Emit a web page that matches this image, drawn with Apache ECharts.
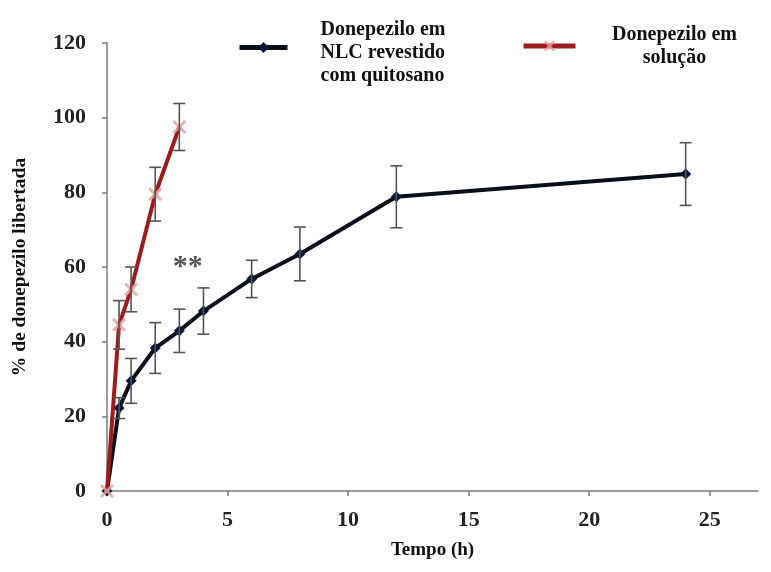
<!DOCTYPE html>
<html>
<head>
<meta charset="utf-8">
<script src="https://cdn.jsdelivr.net/npm/echarts@6/dist/echarts.min.js"></script>
<style>html,body{margin:0;padding:0;background:#fff}#c{width:771px;height:572px}</style>
</head>
<body>
<div id="c"></div>
<script>
// ---- data ----
const nlcTimes = [0, 0.5, 1, 2, 3, 4, 6, 8, 12, 24];
const nlcValues = [0, 22.2, 29.5, 38.3, 42.9, 48.2, 56.8, 63.5, 78.8, 84.9];
const nlcErrors = [0, 2.8, 6, 6.8, 5.8, 6.2, 5, 7.2, 8.3, 8.4];
const solTimes = [0, 0.5, 1, 2, 3];
const solValues = [0, 44.5, 54, 79.5, 97.5];
const solErrors = [0, 6.5, 6, 7.2, 6.3];
const xTickValues = [0, 5, 10, 15, 20, 25];
const yTickValues = [0, 20, 40, 60, 80, 100, 120];
const seriesNames = ['Donepezilo em\nNLC revestido\ncom quitosano', 'Donepezilo em\nsolução'];
const annotationText = '**';
const annotationAt = [3.35, 60];

const FONT = '"Liberation Serif", "Times New Roman", serif';
const chart = echarts.init(document.getElementById('c'), null, {renderer: 'canvas'});

function pairs(xs, ys) { return xs.map((x, i) => [x, ys[i]]); }
function errData(xs, ys, es) { return xs.map((x, i) => [x, ys[i], ys[i] - es[i], ys[i] + es[i]]).filter(d => d[3] > d[2]); }

function renderErr(params, api) {
  const x = api.value(0);
  const lo = api.coord([x, api.value(2)]);
  const hi = api.coord([x, api.value(3)]);
  const w = 6;
  const style = {stroke: '#555', lineWidth: 1.6};
  return {
    type: 'group',
    children: [
      {type: 'line', shape: {x1: lo[0], y1: lo[1], x2: hi[0], y2: hi[1]}, style},
      {type: 'line', shape: {x1: lo[0] - w, y1: lo[1], x2: lo[0] + w, y2: lo[1]}, style},
      {type: 'line', shape: {x1: hi[0] - w, y1: hi[1], x2: hi[0] + w, y2: hi[1]}, style}
    ]
  };
}

const xPath = 'path://M0,1.5L1.5,0L5,3.5L8.5,0L10,1.5L6.5,5L10,8.5L8.5,10L5,6.5L1.5,10L0,8.5L3.5,5Z';

const txt = {fontFamily: FONT, fontWeight: 'bold', fontSize: 20, lineHeight: 23, color: '#111'};

const option = {
  backgroundColor: '#fff',
  animation: false,
  grid: {left: 107, top: 43, right: 13, bottom: 81, containLabel: false, outerBoundsMode: 'none'},
  xAxis: {
    type: 'value', min: 0, max: 27, interval: 5,
    name: 'Tempo (h)', nameLocation: 'middle', nameGap: 50,
    nameTextStyle: {fontFamily: FONT, fontWeight: 'bold', fontSize: 19, color: '#111'},
    axisLine: {lineStyle: {color: '#7a7a7a', width: 1.5}},
    axisTick: {show: true, length: 5, lineStyle: {color: '#7a7a7a', width: 1.5}, customValues: xTickValues},
    axisLabel: {fontFamily: FONT, fontWeight: 'bold', fontSize: 22, color: '#222', margin: 18, customValues: xTickValues},
    splitLine: {show: false}
  },
  yAxis: {
    type: 'value', min: 0, max: 120, interval: 20,
    name: '% de donepezilo libertada', nameLocation: 'middle', nameGap: 77, nameRotate: 90,
    nameTextStyle: {fontFamily: FONT, fontWeight: 'bold', fontSize: 19.5, color: '#111'},
    axisLine: {show: true, lineStyle: {color: '#7a7a7a', width: 1.5}},
    axisTick: {show: true, length: 5, lineStyle: {color: '#7a7a7a', width: 1.5}},
    axisLabel: {fontFamily: FONT, fontWeight: 'bold', fontSize: 22, color: '#222', margin: 21, customValues: yTickValues},
    splitLine: {show: false}
  },
  legend: [
    {
      data: [seriesNames[0]], left: 237, top: 7.5, padding: 0,
      itemWidth: 48, itemHeight: 14,
      lineStyle: {width: 5},
      formatter: n => '{s| }\n' + n.split('\n').map(s => '{a|' + s + '}').join('\n'),
      textStyle: Object.assign({}, txt, {rich: {
        s: {fontSize: 1, lineHeight: 11, height: 11},
        a: Object.assign({}, txt, {padding: [0, 0, 0, 28]})
      }})
    },
    {
      data: [seriesNames[1]], left: 521, top: 23, padding: 0,
      itemWidth: 52, itemHeight: 14,
      lineStyle: {width: 5},
      formatter: n => n.split('\n').map(s => '{a|' + s + '}').join('\n'),
      textStyle: Object.assign({}, txt, {rich: {
        a: Object.assign({}, txt, {width: 128, align: 'center', padding: [0, 0, 0, 30]})
      }})
    }
  ],
  series: [
    {
      name: seriesNames[0], type: 'line', data: pairs(nlcTimes, nlcValues),
      symbol: 'diamond', symbolSize: 11, z: 3,
      lineStyle: {color: '#0b0f1c', width: 4},
      itemStyle: {color: '#0a1633'}
    },
    {
      name: seriesNames[1], type: 'line', data: pairs(solTimes, solValues),
      symbol: xPath, symbolSize: 14, z: 4,
      lineStyle: {color: '#9c1c1e', width: 4},
      itemStyle: {color: '#e3a3a3', opacity: 0.85}
    },
    {
      type: 'custom', renderItem: renderErr, data: errData(nlcTimes, nlcValues, nlcErrors), z: 5,
      encode: {x: 0, y: [1, 2, 3]}, silent: true
    },
    {
      type: 'custom', renderItem: renderErr, data: errData(solTimes, solValues, solErrors), z: 5,
      encode: {x: 0, y: [1, 2, 3]}, silent: true
    }
  ]
};
chart.setOption(option);
const p = chart.convertToPixel({gridIndex: 0}, annotationAt);
chart.setOption({graphic: [{
  type: 'text', x: p[0], y: p[1],
  style: {text: annotationText, fontFamily: FONT, fontWeight: 'bold', fontSize: 30, fill: '#555', align: 'center', verticalAlign: 'middle'}
}]});
</script>
</body>
</html>
